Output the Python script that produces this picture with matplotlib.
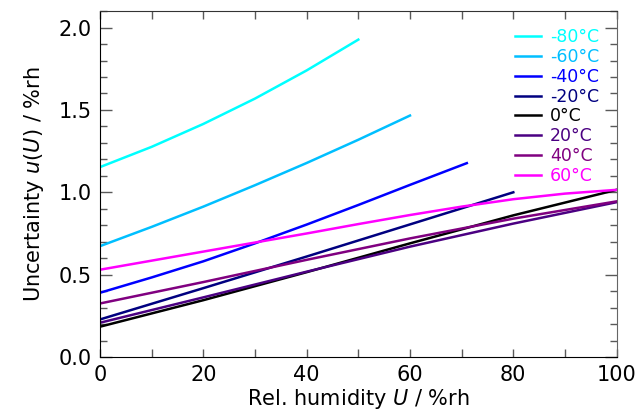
import matplotlib.pyplot as plt
from matplotlib.ticker import MultipleLocator

# relative humidity (%rh) and uncertainty u(U) (%rh) per temperature
labels = ["-80°C", "-60°C", "-40°C", "-20°C", "0°C", "20°C", "40°C", "60°C"]
colors = ["#00ffff", "#00bfff", "#0000ff", "#000080", "#000000", "#4b0082", "#800080", "#ff00ff"]

rh_m80 = [0, 10, 20, 30, 40, 50]
u_m80 = [1.153, 1.276, 1.415, 1.569, 1.740, 1.927]

rh_m60 = [0, 10, 20, 30, 40, 50, 60]
u_m60 = [0.673, 0.790, 0.913, 1.043, 1.178, 1.319, 1.466]

rh_m40 = [0, 10, 20, 30, 40, 50, 60, 71]
u_m40 = [0.39, 0.483, 0.581, 0.690, 0.804, 0.923, 1.045, 1.177]

rh_m20 = [0, 20, 40, 60, 80]
u_m20 = [0.228, 0.418, 0.610, 0.805, 1.0]

rh_0 = [0, 20, 40, 60, 80, 100]
u_0 = [0.184, 0.345, 0.515, 0.69, 0.86, 1.015]

rh_20 = [0, 20, 40, 60, 80, 100]
u_20 = [0.208, 0.362, 0.518, 0.670, 0.810, 0.94]

rh_40 = [0, 20, 40, 60, 80, 100]
u_40 = [0.325, 0.455, 0.59, 0.72, 0.84, 0.945]

rh_60 = [0, 10, 20, 30, 40, 50, 60, 70, 80, 90, 100]
u_60 = [0.53, 0.585, 0.64, 0.695, 0.75, 0.807, 0.862, 0.913, 0.958, 0.992, 1.015]

xs = [rh_m80, rh_m60, rh_m40, rh_m20, rh_0, rh_20, rh_40, rh_60]
ys = [u_m80, u_m60, u_m40, u_m20, u_0, u_20, u_40, u_60]

fig = plt.figure(figsize=(6.39, 4.12), dpi=100)
ax = fig.add_axes([0.1565, 0.1335, 0.8085, 0.8395])

for x, y, lab, c in zip(xs, ys, labels, colors):
    ax.plot(x, y, color=c, lw=1.8, label=lab)

ax.set_xlim(0, 100)
ax.set_ylim(0, 2.1)
ax.xaxis.set_major_locator(MultipleLocator(20))
ax.xaxis.set_minor_locator(MultipleLocator(10))
ax.yaxis.set_major_locator(MultipleLocator(0.5))
ax.yaxis.set_minor_locator(MultipleLocator(0.1))
ax.tick_params(which='both', direction='in', top=True, right=True,
               labelsize=15, color='0.35', width=1)
ax.tick_params(axis='x', which='both', length=6, pad=6)
ax.tick_params(axis='y', which='major', length=8.5, pad=6)
ax.tick_params(axis='y', which='minor', length=5)
ax.spines['right'].set_color('0.4')
ax.spines['top'].set_color('0.2')

ax.set_xlabel('Rel. humidity $U$ / %rh', fontsize=15, labelpad=1)
ax.set_ylabel('Uncertainty $u(U)$ / %rh', fontsize=15, labelpad=9)

leg = ax.legend(loc='upper right', frameon=False, fontsize=12.5,
                handlelength=1.5, handletextpad=0.52, labelspacing=0.1,
                borderaxespad=0.6)
for t, c in zip(leg.get_texts(), colors):
    t.set_color(c)

fig.savefig('out.png', dpi=100)
